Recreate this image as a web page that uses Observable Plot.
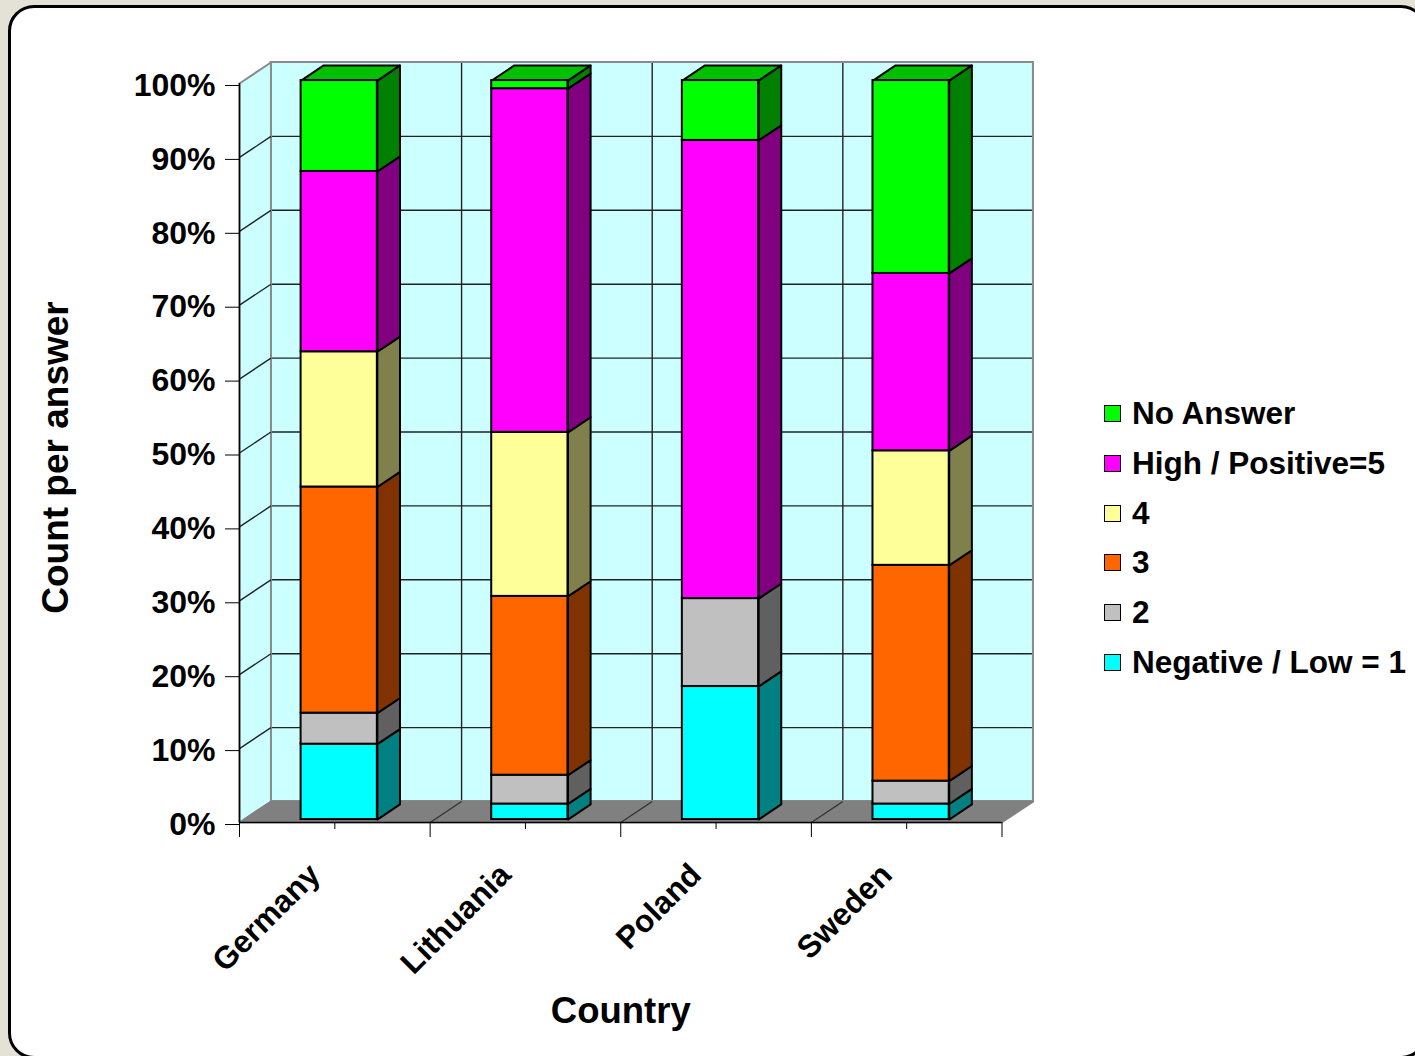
<!DOCTYPE html>
<html><head><meta charset="utf-8">
<script src="https://cdn.jsdelivr.net/npm/d3@7"></script>
<script src="https://cdn.jsdelivr.net/npm/@observablehq/plot@0.6"></script>
<style>
html,body{margin:0;padding:0;background:#e4e1d6;width:1415px;height:1056px;overflow:hidden;font-family:"Liberation Sans",Arial,sans-serif;}
#frame{position:absolute;left:8px;top:5px;width:1419px;height:1054px;box-sizing:border-box;border:3px solid #000;border-radius:26px;background:#fff;}
#chart{position:absolute;left:0;top:0;}
#legend{position:absolute;left:1104px;top:389px;font-weight:bold;font-size:31.5px;color:#000;}
.row{display:flex;align-items:center;height:49.7px;white-space:nowrap;}
.sw{width:15px;height:15px;border:1.5px solid #000;margin-right:11px;flex:none;}
</style></head><body>
<div id="frame"></div><div id="chart"></div><div id="legend"></div>
<script>
// ---- data (percent of answers per country) ----
const countries = ["Germany", "Lithuania", "Poland", "Sweden"];
const answers = ["Negative / Low = 1", "2", "3", "4", "High / Positive=5", "No Answer"];
const negativeLow1 = [10.2, 2.1, 18.0, 2.1];
const answer2 = [4.2, 3.9, 11.9, 3.1];
const answer3 = [30.6, 24.2, 0, 29.2];
const answer4 = [18.3, 22.2, 0, 15.5];
const highPositive5 = [24.4, 46.5, 62.0, 24.0];
const noAnswer = [12.3, 1.1, 8.1, 26.1];
const yTicks = [0, 10, 20, 30, 40, 50, 60, 70, 80, 90, 100];

const series = [negativeLow1, answer2, answer3, answer4, highPositive5, noAnswer];

// ---- style ----
const frontColors = ["#00ffff", "#c0c0c0", "#ff6600", "#ffff99", "#ff00ff", "#00ff00"];
const sideColors  = ["#008080", "#606060", "#803300", "#80804d", "#800080", "#008000"];
const topColors   = ["#00c0c0", "#909090", "#c04d00", "#c0c073", "#c000c0", "#00c000"];

// oblique 3D projection, expressed in data units of the x and y scales
const KX = 0.165, KY = 2.84;   // offset of the full depth
const D0 = 0.14, D1 = 0.86;    // depth span of the bars
const BAR = 0.4;               // bar width as share of a category
const P = (x, v, d) => ({x: x + d * KX, y: v + d * KY});
const nCat = countries.length;

// stack segments (normalized to 100%)
const segs = [];
countries.forEach((c, i) => {
  const total = d3.sum(series, s => s[i]);
  let acc = 0;
  series.forEach((s, j) => {
    const v = s[i] / total * 100;
    if (v > 0) segs.push({i, j, lo: acc, hi: acc + v});
    acc += v;
  });
});

const fronts = segs.map(s => {
  const xl = s.i + 0.5 - BAR / 2, xr = s.i + 0.5 + BAR / 2;
  return {x1: P(xl, 0, D0).x, x2: P(xr, 0, D0).x, y1: P(0, s.lo, D0).y, y2: P(0, s.hi, D0).y, fill: frontColors[s.j]};
});
const polys = [];
let pid = 0;
function addPoly(pts, fill) {
  const id = pid++;
  [...pts, pts[0]].forEach(p => polys.push({id, fill, x: p.x, y: p.y}));
}
segs.forEach(s => {
  const xr = s.i + 0.5 + BAR / 2;
  addPoly([P(xr, s.lo, D0), P(xr, s.lo, D1), P(xr, s.hi, D1), P(xr, s.hi, D0)], sideColors[s.j]);
});
countries.forEach((c, i) => {
  const top = segs.filter(s => s.i === i).at(-1);
  const xl = i + 0.5 - BAR / 2, xr = i + 0.5 + BAR / 2;
  addPoly([P(xl, top.hi, D0), P(xl, top.hi, D1), P(xr, top.hi, D1), P(xr, top.hi, D0)], topColors[top.j]);
});

const wallPts = [];
[[P(0, 0, 0), P(0, 0, 1), P(0, 100, 1), P(0, 100, 0)]].forEach(pts => [...pts, pts[0]].forEach(p => wallPts.push({id: 0, ...p})));
const floorPts = [];
[[P(0, 0, 0), P(nCat, 0, 0), P(nCat, 0, 1), P(0, 0, 1)]].forEach(pts => [...pts, pts[0]].forEach(p => floorPts.push({id: 0, ...p})));

const inner = yTicks.filter(v => v > 0 && v < 100);
const bounds = d3.range(0, nCat + 1);
const centers = countries.map((c, i) => i + 0.5);

const chart = Plot.plot({
  width: 1415, height: 1056,
  marginLeft: 239, marginRight: 413.5, marginTop: 83, marginBottom: 234,
  x: {type: "linear", domain: [0, nCat], axis: null},
  y: {type: "linear", domain: [0, 100], axis: null},
  color: {type: "identity"},
  style: {background: "transparent", fontFamily: "'Liberation Sans', Arial, sans-serif", fontWeight: "bold", overflow: "visible", color: "#000"},
  marks: [
    // back wall
    Plot.rect([0], {x1: () => KX, x2: () => nCat + KX, y1: () => KY, y2: () => 100 + KY, fill: "#ccffff"}),
    Plot.ruleY(inner, {y: v => v + KY, x1: () => KX, x2: () => nCat + KX, stroke: "#222", strokeWidth: 1.4}),
    Plot.ruleX(bounds.slice(1, -1), {x: b => b + KX, y1: () => KY, y2: () => 100 + KY, stroke: "#222", strokeWidth: 1.4}),
    Plot.rect([0], {x1: () => KX, x2: () => nCat + KX, y1: () => KY, y2: () => 100 + KY, fill: "none", stroke: "#8a8a8a", strokeWidth: 2}),
    // side wall
    Plot.line(wallPts, {x: "x", y: "y", z: "id", fill: "#ccffff", stroke: "#8a8a8a", strokeWidth: 2}),
    Plot.link(inner, {x1: () => 0, y1: v => v, x2: () => KX, y2: v => v + KY, stroke: "#222", strokeWidth: 1.4}),
    // floor
    Plot.line(floorPts, {x: "x", y: "y", z: "id", fill: "#808080", stroke: "#808080", strokeWidth: 1.5}),
    Plot.link(bounds.slice(1, -1), {x1: b => b, y1: () => 0, x2: b => b + KX, y2: () => KY, stroke: "#333", strokeWidth: 1.4}),
    // bars
    Plot.line(polys, {x: "x", y: "y", z: "id", fill: "fill", stroke: "#000", strokeWidth: 2, strokeLinejoin: "round"}),
    Plot.rect(fronts, {x1: "x1", x2: "x2", y1: "y1", y2: "y2", fill: "fill", stroke: "#000", strokeWidth: 2}),
    // axes
    Plot.ruleX([0], {y1: () => 0, y2: () => 100, stroke: "#000", strokeWidth: 1.5}),
    Plot.ruleY([0], {x1: () => 0, x2: () => nCat, stroke: "#000", strokeWidth: 1.5}),
    Plot.axisY({ticks: yTicks, tickSize: 14, tickPadding: 10, tickFormat: d => d + "%", fontSize: 32, fontWeight: "bold", label: null, dy: 2}),
    Plot.axisX({ticks: bounds, tickSize: 15, tickFormat: () => "", label: null}),
    Plot.axisX({ticks: centers, tickSize: 7, tickFormat: () => "", label: null}),
    Plot.text(countries, {x: (d, i) => i + 0.5, y: () => 0, text: d => d, rotate: -45, textAnchor: "end", lineAnchor: "middle", dx: -20, dy: 47, fontSize: 31.5, fontWeight: "bold", fill: "#000"}),
    Plot.text(["Count per answer"], {frameAnchor: "left", textAnchor: "middle", lineAnchor: "middle", rotate: -90, dx: -183.5, dy: 4.5, fontSize: 37, fontWeight: "bold", fill: "#000"}),
    Plot.text(["Country"], {frameAnchor: "bottom", textAnchor: "middle", lineAnchor: "middle", dy: 189, fontSize: 36.5, fontWeight: "bold", fill: "#000"})
  ]
});
document.getElementById("chart").appendChild(chart);

// legend (top to bottom: reverse of stacking order)
const legend = document.getElementById("legend");
answers.map((a, j) => ({a, c: frontColors[j]})).reverse().forEach(({a, c}) => {
  const row = document.createElement("div");
  row.className = "row";
  const sw = document.createElement("div");
  sw.className = "sw";
  sw.style.background = c;
  const t = document.createElement("span");
  t.textContent = a;
  row.appendChild(sw);
  row.appendChild(t);
  legend.appendChild(row);
});
</script>
</body></html>
